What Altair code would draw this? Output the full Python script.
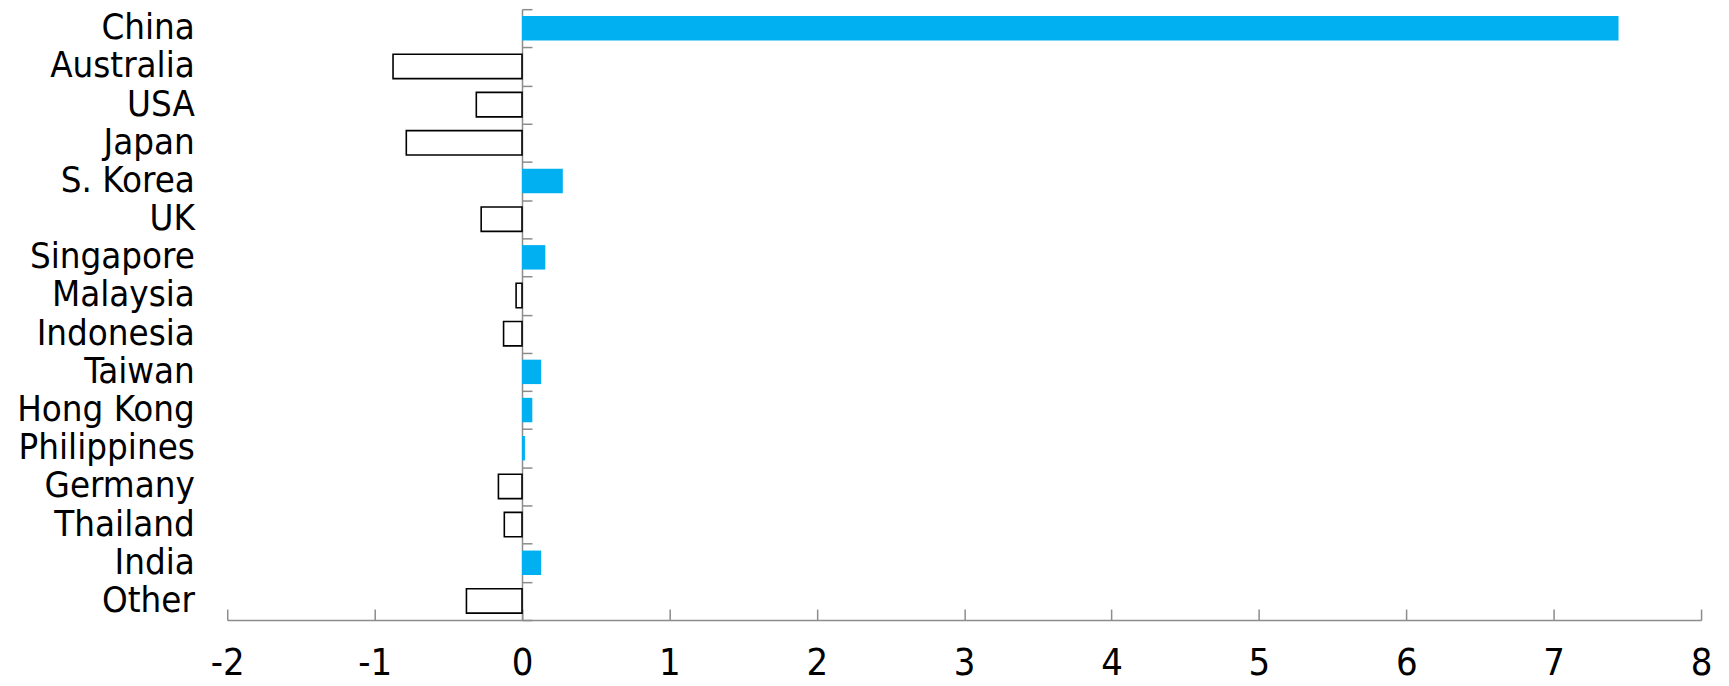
import altair as alt
import pandas as pd

countries = ["China", "Australia", "USA", "Japan", "S. Korea", "UK", "Singapore",
             "Malaysia", "Indonesia", "Taiwan", "Hong Kong", "Philippines",
             "Germany", "Thailand", "India", "Other"]
values = [7.44, -0.875, -0.31, -0.785, 0.277, -0.277, 0.158, -0.04, -0.125,
          0.13, 0.07, 0.02, -0.16, -0.12, 0.13, -0.377]
x_ticks = [-2, -1, 0, 1, 2, 3, 4, 5, 6, 7, 8]

df = pd.DataFrame({"country": countries, "value": values})

W, H = 1479, 613
FONT = "DejaVu Sans Condensed"
AXIS_GRAY = "#8c8c8c"

xscale = alt.Scale(domain=[-2, 8], nice=False, zero=False)
yscale = alt.Scale(domain=countries, paddingInner=0, paddingOuter=0)

bars = alt.Chart(df).mark_bar(
    stroke="black", height=alt.RelativeBandSize(0.64)
).encode(
    x=alt.X("value:Q", scale=xscale,
            axis=alt.Axis(orient="bottom", values=x_ticks, title=None, grid=False,
                          domainColor=AXIS_GRAY, domainWidth=1.5, ticks=False,
                          labelExpr="'' + datum.value", labelFlush=False,
                          labelFont=FONT, labelFontSize=38, labelColor="black",
                          labelPadding=25)),
    y=alt.Y("country:N", sort=countries, scale=yscale,
            axis=alt.Axis(orient="left", title=None, domain=False, ticks=False,
                          grid=False, labelFont=FONT, labelFontSize=36.5,
                          labelColor="black", labelPadding=33, labelLimit=0)),
    fill=alt.condition("datum.value > 0", alt.value("#00B0F0"), alt.value("white")),
    strokeWidth=alt.condition("datum.value > 0", alt.value(0), alt.value(1.6)),
)

frame = alt.Chart(df).mark_bar(opacity=0).encode(
    x=alt.X("value:Q", scale=xscale,
            axis=alt.Axis(orient="top", offset=-H, values=x_ticks, title=None,
                          grid=False, domain=False, labels=False, ticks=True,
                          tickColor=AXIS_GRAY, tickWidth=1.5, tickSize=11)),
    y=alt.Y("country:N", sort=countries, scale=yscale,
            axis=alt.Axis(orient="right", offset=-(W * 0.8), title=None, grid=False,
                          labels=False, domain=True, domainColor=AXIS_GRAY,
                          domainWidth=1.5, ticks=True, tickBand="extent",
                          tickColor=AXIS_GRAY, tickWidth=1.5, tickSize=10)),
)

chart = alt.layer(frame, bars).resolve_axis(x="independent", y="independent").properties(
    width=W, height=H,
    background="white",
    autosize=alt.AutoSizeParams(type="none"),
    padding={"left": 220, "top": 0, "right": 20, "bottom": 62},
).configure_view(strokeWidth=0, stroke="transparent")

chart.save("out.html", embed_options={"renderer": "svg", "actions": False})
